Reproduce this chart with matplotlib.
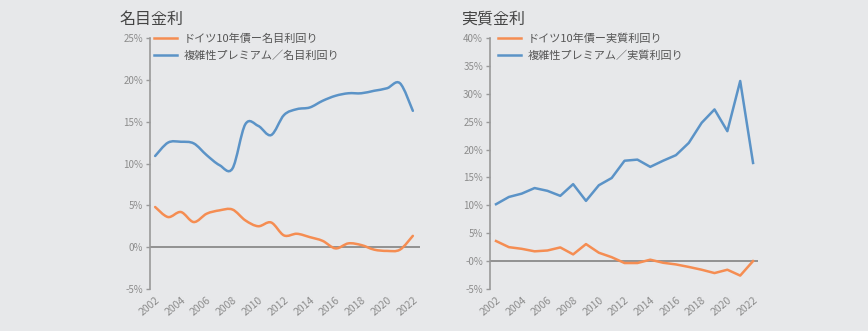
import matplotlib

matplotlib.use("Agg")
import matplotlib.pyplot as plt  # noqa: E402
import numpy as np  # noqa: E402
from matplotlib.path import Path  # noqa: E402
from matplotlib.patches import PathPatch  # noqa: E402
from matplotlib.lines import Line2D  # noqa: E402
from matplotlib.ticker import FuncFormatter  # noqa: E402

plt.rcParams["font.family"] = ["Noto Sans CJK JP", "DejaVu Sans"]

years = list(range(2002, 2023))
year_ticks = list(range(2002, 2023, 2))

# nominal (left panel), %
bund_nominal = [4.8, 3.6, 4.2, 3.0, 4.0, 4.4, 4.5, 3.2, 2.5, 2.95, 1.4,
                1.6, 1.2, 0.75, -0.15, 0.45, 0.25, -0.3, -0.45, -0.3, 1.35]
premium_nominal = [10.9, 12.5, 12.6, 12.4, 11.0, 9.8, 9.4, 14.7, 14.5, 13.4, 15.8,
                   16.5, 16.7, 17.5, 18.1, 18.4, 18.4, 18.7, 19.0, 19.6, 16.3]

# real (right panel), %
bund_real = [3.6, 2.5, 2.2, 1.75, 1.9, 2.45, 1.2, 3.05, 1.5, 0.7, -0.35,
             -0.35, 0.25, -0.3, -0.6, -1.05, -1.55, -2.15, -1.55, -2.6, 0.0]
premium_real = [10.2, 11.5, 12.1, 13.1, 12.6, 11.7, 13.8, 10.8, 13.6, 14.9, 18.0,
                18.2, 16.9, 18.0, 19.0, 21.2, 24.8, 27.2, 23.3, 32.3, 17.6]

ORANGE = "#F58D52"
BLUE = "#5B93C7"
BG = "#E7E8EA"
TICK_GREY = "#8C8C8C"


def smooth_path(xs, ys, tension=1 / 6):
    # Catmull-Rom style cubic Bezier through the data points (Excel "smoothed line")
    xs = np.asarray(xs, float)
    ys = np.asarray(ys, float)
    n = len(xs)
    verts = [(xs[0], ys[0])]
    codes = [Path.MOVETO]
    for i in range(n - 1):
        p0 = np.array([xs[max(i - 1, 0)], ys[max(i - 1, 0)]])
        p1 = np.array([xs[i], ys[i]])
        p2 = np.array([xs[i + 1], ys[i + 1]])
        p3 = np.array([xs[min(i + 2, n - 1)], ys[min(i + 2, n - 1)]])
        c1 = p1 + (p2 - p0) * tension
        c2 = p2 - (p3 - p1) * tension
        verts += [tuple(c1), tuple(c2), tuple(p2)]
        codes += [Path.CURVE4] * 3
    return Path(verts, codes)


def style_axes(ax, ylim, yticks, xlim, zero_label):
    ax.set_facecolor(BG)
    ax.set_xlim(*xlim)
    ax.set_ylim(*ylim)
    ax.set_yticks(yticks)
    ax.yaxis.set_major_formatter(FuncFormatter(
        lambda v, _: zero_label if abs(v) < 1e-9 else f"{v:.0f}%"))
    ax.set_xticks(year_ticks)
    ax.set_xticklabels([str(y) for y in year_ticks], rotation=40, ha="right",
                       rotation_mode="anchor")
    for side in ("top", "right", "bottom"):
        ax.spines[side].set_visible(False)
    ax.spines["left"].set_color("#999999")
    ax.spines["left"].set_linewidth(1.2)
    ax.tick_params(axis="y", colors="#999999", labelcolor=TICK_GREY, labelsize=7,
                   length=3, width=1, pad=2)
    ax.tick_params(axis="x", length=0, labelcolor=TICK_GREY, labelsize=7.5, pad=4)
    ax.axhline(0, color="#8A8A8A", lw=1.3, zorder=1)


fig = plt.figure(figsize=(8.68, 3.31), dpi=100)
fig.patch.set_facecolor(BG)

ax1 = fig.add_axes([0.1728, 0.127, 0.311, 0.758])
ax2 = fig.add_axes([0.5645, 0.127, 0.309, 0.758])

style_axes(ax1, (-5, 25), range(-5, 26, 5), (2001.6, 2022.55), "0%")
style_axes(ax2, (-5, 40), range(-5, 41, 5), (2001.53, 2022.4), "-0%")

for series, color in ((bund_nominal, ORANGE), (premium_nominal, BLUE)):
    ax1.add_patch(PathPatch(smooth_path(years, series), facecolor="none",
                            edgecolor=color, lw=1.8, zorder=3, capstyle="round"))

ax2.plot(years, bund_real, color=ORANGE, lw=1.8, zorder=3)
ax2.plot(years, premium_real, color=BLUE, lw=1.8, zorder=3)

handles = [Line2D([], [], color=ORANGE, lw=1.8), Line2D([], [], color=BLUE, lw=1.8)]
legend_kw = dict(loc="upper left", frameon=False, fontsize=8, handlelength=2.0,
                 handletextpad=0.6, labelspacing=0.55, labelcolor="#555555",
                 borderaxespad=0.0)
ax1.legend(handles, ["ドイツ10年債ー名目利回り", "複雑性プレミアム／名目利回り"],
           bbox_to_anchor=(0.0, 1.035), **legend_kw)
ax2.legend(handles, ["ドイツ10年債ー実質利回り", "複雑性プレミアム／実質利回り"],
           bbox_to_anchor=(0.015, 1.035), **legend_kw)

fig.text(0.138, 0.942, "名目金利", fontsize=11.5, color="#444444", va="center")
fig.text(0.531, 0.942, "実質金利", fontsize=11.5, color="#444444", va="center")

fig.savefig("out.png", dpi=100, facecolor=BG)
